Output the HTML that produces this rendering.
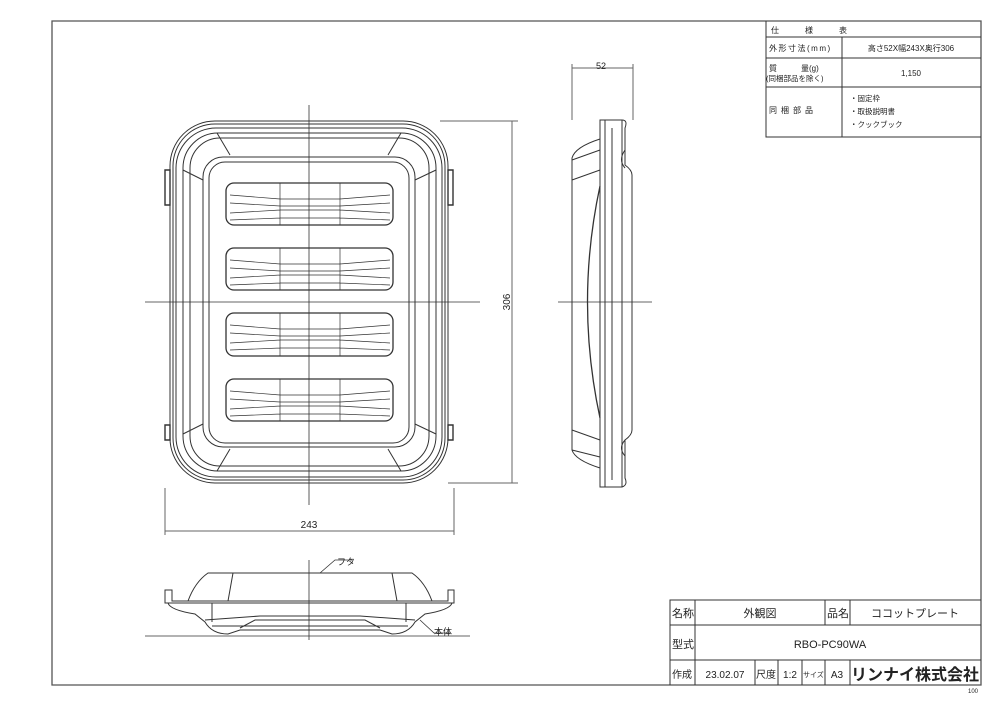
<!DOCTYPE html>
<html><head><meta charset="utf-8"><style>
html,body{margin:0;padding:0;background:#fff;}
svg{display:block;}
text{font-family:"Liberation Sans","Noto Sans CJK JP",sans-serif;fill:#222;}
</style></head><body>
<svg width="1000" height="707" viewBox="0 0 1000 707" xmlns="http://www.w3.org/2000/svg">
<g fill="none" stroke="#333" stroke-width="1">
<!-- frame -->
<path d="M52 21 H981 V685 H52 Z" stroke="#555" stroke-width="1.3"/>
<!-- spec table -->
<path d="M766 21 V137 H981 M766 37 H981 M766 58 H981 M766 87 H981 M842 37 V137"/>
<!-- title block -->
<path d="M670 685 V600 H981 M670 625 H981 M670 660 H981 M695 600 V685 M825 600 V625 M850 600 V625 M755 660 V685 M778 660 V685 M802 660 V685 M825 660 V685 M850 660 V685"/>

<!-- front view -->
<rect x="170" y="121" width="278" height="362" rx="45"/>
<rect x="173" y="124" width="272" height="356" rx="42"/>
<rect x="176" y="128" width="266" height="349" rx="40"/>
<rect x="183" y="133" width="253" height="338" rx="35"/>
<rect x="190" y="138" width="239" height="328" rx="30"/>
<rect x="203" y="157" width="212" height="290" rx="20"/>
<rect x="209" y="162" width="200" height="281" rx="16"/>
<path d="M217 133 L230 155 M401 133 L388 155 M217 471 L230 449 M401 471 L388 449"/>
<path d="M183 170 L203 180 M436 170 L415 180 M183 434 L203 424 M436 434 L415 424"/>
<path d="M165 170 H170 V205 H165 Z M448 170 H453 V205 H448 Z M165 425 H170 V440 H165 Z M448 425 H453 V440 H448 Z" stroke-width="1.4"/>
<g stroke-width="1.3">
<rect x="226" y="183" width="167" height="42" rx="8"/>
<rect x="226" y="248" width="167" height="42" rx="8"/>
<rect x="226" y="313" width="167" height="43" rx="8"/>
<rect x="226" y="379" width="167" height="42" rx="8"/>
</g>
<g stroke-width="0.7">
<path d="M230 195 L280 199 H340 L390 195 M230 203 L280 206 H340 L390 203 M230 213 L280 210 H340 L390 213 M230 220 L280 218 H340 L390 220 M280 183 V225 M340 183 V225"/>
<path d="M230 260 L280 264 H340 L390 260 M230 268 L280 271 H340 L390 268 M230 278 L280 275 H340 L390 278 M230 285 L280 283 H340 L390 285 M280 248 V290 M340 248 V290"/>
<path d="M230 325 L280 329 H340 L390 325 M230 333 L280 336 H340 L390 333 M230 343 L280 340 H340 L390 343 M230 350 L280 348 H340 L390 350 M280 313 V356 M340 313 V356"/>
<path d="M230 391 L280 395 H340 L390 391 M230 399 L280 402 H340 L390 399 M230 409 L280 406 H340 L390 409 M230 416 L280 414 H340 L390 416 M280 379 V421 M340 379 V421"/>
</g>
<path d="M309 105 V505 M145 302 H480" stroke-width="0.8"/>
<!-- dims -->
<path d="M440 121 H518 M448 483 H518 M512 121 V483" stroke="#666"/>
<path d="M165 488 V535 M454 488 V535 M165 531 H454" stroke="#666"/>
<path d="M572 120 V64 M633 120 V64 M572 68 H633" stroke="#666"/>

<!-- side view -->
<path d="M572 158 V450 Q575 460 600 468 V487 H622 Q628 485 625 478 V440 Q632 435 632 430 V175 Q632 170 625 165 V128 Q628 120 622 120 H600 V139 Q575 147 572 158 Z"/>
<path d="M600 139 V468 M605 120 V487 M612 128 V480 M622 120 V487"/>
<path d="M572 160 L600 150 M572 180 L600 170 M572 430 L600 440 M572 450 L600 457"/>
<path d="M600 186 Q575 302 600 418" stroke-width="1.3"/>
<path d="M625 150 Q618 160 625 168 M625 440 Q618 448 625 456"/>
<path d="M558 302 H652" stroke-width="0.8"/>

<!-- bottom view -->
<path d="M165 590 H172 V601 H448 V590 H454 V603 H165 Z"/>
<path d="M188 601 Q195 582 208 573 H412 Q425 582 432 601"/>
<path d="M228 601 L233 573 M392 573 L397 601 M212 603 V622 M406 603 V622"/>
<path d="M168 603 Q170 610 195 614 L205 622 Q212 634 228 634 L240 630 H380 L392 634 Q408 634 415 622 L425 614 Q450 610 452 603"/>
<path d="M205 620 L260 616 H360 L415 620 M240 628 L255 620 H365 L380 628 M212 626 H408"/>
<path d="M145 636 H470" stroke-width="0.8"/>
<path d="M309 560 V640" stroke-width="0.8"/>
<path d="M320 573 L335 560 H352 M420 620 L434 633 H450" stroke-width="0.8"/>
</g>

<!-- texts -->
<g font-size="9">
<text x="601" y="69" text-anchor="middle">52</text>
<text x="309" y="528" text-anchor="middle" font-size="10">243</text>
<text transform="translate(510,302) rotate(-90)" text-anchor="middle" font-size="10">306</text>
<text x="337" y="565" font-size="9">フタ</text>
<text x="434" y="635" font-size="9">本体</text>

<text x="822" y="33" text-anchor="middle" font-size="8" letter-spacing="26">仕様表</text>
<text x="769" y="51" font-size="8" letter-spacing="1.5">外形寸法(mm)</text>
<text x="911" y="51" text-anchor="middle" font-size="8">高さ52X幅243X奥行306</text>
<text x="769" y="71" font-size="8">質　　　量(g)</text>
<text x="766" y="81" font-size="7.5">(同梱部品を除く)</text>
<text x="911" y="76" text-anchor="middle" font-size="8">1,150</text>
<text x="769" y="113" font-size="8" letter-spacing="4">同梱部品</text>
<text x="850" y="101" font-size="7.5">・固定枠</text>
<text x="850" y="114" font-size="7.5">・取扱説明書</text>
<text x="850" y="127" font-size="7.5">・クックブック</text>

<text x="672" y="617" font-size="11">名称</text>
<text x="760" y="617" text-anchor="middle" font-size="11">外観図</text>
<text x="827" y="617" font-size="11">品名</text>
<text x="915" y="617" text-anchor="middle" font-size="11">ココットプレート</text>
<text x="672" y="648" font-size="11">型式</text>
<text x="830" y="648" text-anchor="middle" font-size="11">RBO-PC90WA</text>
<text x="672" y="678" font-size="10">作成</text>
<text x="725" y="678" text-anchor="middle" font-size="10">23.02.07</text>
<text x="756" y="678" font-size="10">尺度</text>
<text x="790" y="678" text-anchor="middle" font-size="10">1:2</text>
<text x="803" y="677" font-size="7">サイズ</text>
<text x="837" y="678" text-anchor="middle" font-size="10">A3</text>
<text x="915" y="680" text-anchor="middle" font-size="16" font-weight="bold">リンナイ株式会社</text>
<text x="968" y="693" font-size="6">100</text>
</g>
</svg>
</body></html>
